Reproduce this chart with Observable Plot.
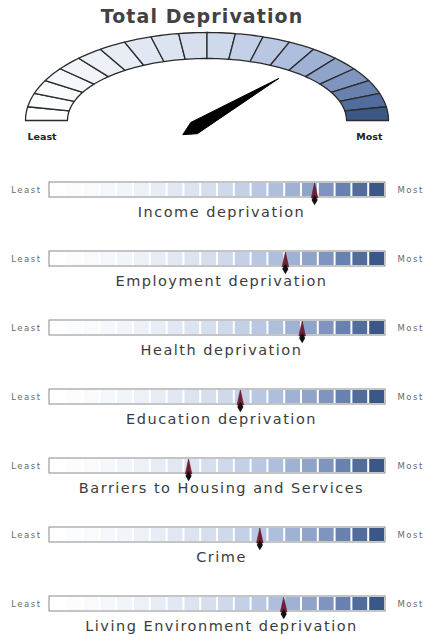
<!DOCTYPE html>
<html>
<head>
<meta charset="utf-8">
<script src="https://cdn.jsdelivr.net/npm/d3@7"></script>
<script src="https://cdn.jsdelivr.net/npm/@observablehq/plot@0.6"></script>
<style>
  html, body { margin: 0; padding: 0; background: #fff; }
  #title {
    width: 425px; height: 29px; box-sizing: border-box; padding-right: 21px;
    text-align: center; font-family: "DejaVu Sans", sans-serif; font-weight: bold;
    font-size: 19px; line-height: 32px; color: #424242; letter-spacing: 1.1px; overflow: visible;
  }
  .bars text { letter-spacing: 1.5px; }
</style>
</head>
<body>
<div id="title"></div>
<div id="gauge"></div>
<div id="bars"></div>
<script>
// ---- data ----
const chartTitle = "Total Deprivation";
const totalScore = 0.72;                 // position of the gauge needle (0 = least, 1 = most)
const gaugeLabels = ["Least", "Most"];
const categories = [
  "Income deprivation",
  "Employment deprivation",
  "Health deprivation",
  "Education deprivation",
  "Barriers to Housing and Services",
  "Crime",
  "Living Environment deprivation"
];
const scores = [0.789, 0.702, 0.752, 0.568, 0.414, 0.626, 0.697];
const nSegments = 20;

// ---- styles ----
const rampStops = [0, 0.25, 0.5, 0.7, 0.85, 1];
const rampColors = ["#ffffff", "#eef2f8", "#d4ddee", "#abbcdb", "#7d93bf", "#3b5788"];
const ramp = d3.scaleLinear().domain(rampStops).range(rampColors).interpolate(d3.interpolateRgb);
const font = "DejaVu Sans, sans-serif";

document.getElementById("title").textContent = chartTitle;

// ---- gauge geometry (pixel-like units, y up, centre of dial at 0,0) ----
const RX = 181.5, RY = 88, RXi = 139.5, RYi = 62;
const segPts = [];
for (let s = 0; s < nSegments; s++) {
  const t0 = Math.PI - s * Math.PI / nSegments;
  const t1 = Math.PI - (s + 1) * Math.PI / nSegments;
  const color = ramp(s / (nSegments - 1));
  const ring = [];
  for (let k = 0; k <= 6; k++) { const t = t0 + (t1 - t0) * k / 6; ring.push([RX * Math.cos(t), RY * Math.sin(t)]); }
  for (let k = 6; k >= 0; k--) { const t = t0 + (t1 - t0) * k / 6; ring.push([RXi * Math.cos(t), RYi * Math.sin(t)]); }
  ring.push(ring[0]);
  ring.forEach(([x, y]) => segPts.push({seg: s, x, y, color}));
}
const tn = Math.PI * (1 - totalScore);
let ux = RX * Math.cos(tn), uy = RY * Math.sin(tn);
const ul = Math.hypot(ux, uy); ux /= ul; uy /= ul;
const nx = -uy, ny = ux;
const P = (a, b) => ({x: a * ux + b * nx, y: a * uy + b * ny});
const needle = [P(83, 0), P(-15, 6.5), P(-28, 0), P(-15, -6.5), P(83, 0)];

const gauge = Plot.plot({
  width: 425, height: 120, margin: 0,
  style: {fontFamily: font, background: "#fff"},
  x: {domain: [-206.5, 218.5], range: [0, 425], axis: null},
  y: {domain: [-29, 91], range: [120, 0], axis: null},
  color: {type: "identity"},
  marks: [
    Plot.line(segPts, {x: "x", y: "y", z: "seg", fill: "color", stroke: "#2b2b2b", strokeWidth: 1.3, curve: "linear"}),
    Plot.line(needle, {x: "x", y: "y", fill: "#000", stroke: "#000", strokeWidth: 1, curve: "linear"}),
    Plot.text([gaugeLabels[0]], {x: () => -RX + 2, y: () => -16, text: d => d, textAnchor: "start", fontSize: 9.5, fontWeight: "bold", fill: "#222"}),
    Plot.text([gaugeLabels[1]], {x: () => RX - 6, y: () => -16, text: d => d, textAnchor: "end", fontSize: 9.5, fontWeight: "bold", fill: "#222"})
  ]
});
document.getElementById("gauge").appendChild(gauge);

// ---- bars ----
const rows = categories.map((c, i) => ({category: c, score: scores[i]}));
const cells = categories.flatMap(c => d3.range(nSegments).map(j => ({category: c, j, color: ramp(j / (nSegments - 1))})));

const pin = {
  draw(context) {
    context.moveTo(0, -8);
    context.lineTo(3.3, 7);
    context.lineTo(-3.3, 7);
    context.closePath();
  }
};

const bars = Plot.plot({
  className: "bars",
  width: 425, height: 486,
  marginLeft: 49, marginRight: 40, marginTop: 31, marginBottom: 22,
  style: {fontFamily: font, background: "#fff"},
  x: {domain: [0, nSegments], axis: null},
  y: {domain: categories, paddingInner: 0.785, paddingOuter: 0, axis: null},
  color: {type: "identity"},
  marks: [
    Plot.barX(cells, {x1: "j", x2: d => d.j + 1, y: "category", fill: "color", insetLeft: 1, insetRight: 1, insetTop: 1, insetBottom: 1}),
    Plot.barX(categories, {x1: () => 0, x2: () => nSegments, y: d => d, fill: "none", stroke: "#8a8a8a", strokeWidth: 1}),
    Plot.text(categories, {y: d => d, text: () => gaugeLabels[0], frameAnchor: "left", textAnchor: "end", dx: -8, fontSize: 8.5, fill: "#6a6a6a"}),
    Plot.text(categories, {y: d => d, text: () => gaugeLabels[1], frameAnchor: "right", textAnchor: "start", dx: 12, fontSize: 8.5, fill: "#6a6a6a"}),
    Plot.text(categories, {y: d => d, text: d => d, dx: 4, dy: 22.5, fontSize: 14.5, fill: "#3c3c3c"}),
    Plot.ruleX(rows, {x: d => d.score * nSegments, y: "category", stroke: "#3a0c18", strokeWidth: 1.3, insetTop: -5, insetBottom: -3}),
    Plot.dot(rows, {x: d => d.score * nSegments, y: "category", symbol: pin, r: 4, fill: "#7a1d33", stroke: "#4a1020", strokeWidth: 0.5, dy: 1}),
    Plot.dot(rows, {x: d => d.score * nSegments, y: "category", symbol: "diamond", r: 3.2, fill: "#111", stroke: "none", dy: 10})
  ]
});
document.getElementById("bars").appendChild(bars);
</script>
</body>
</html>
